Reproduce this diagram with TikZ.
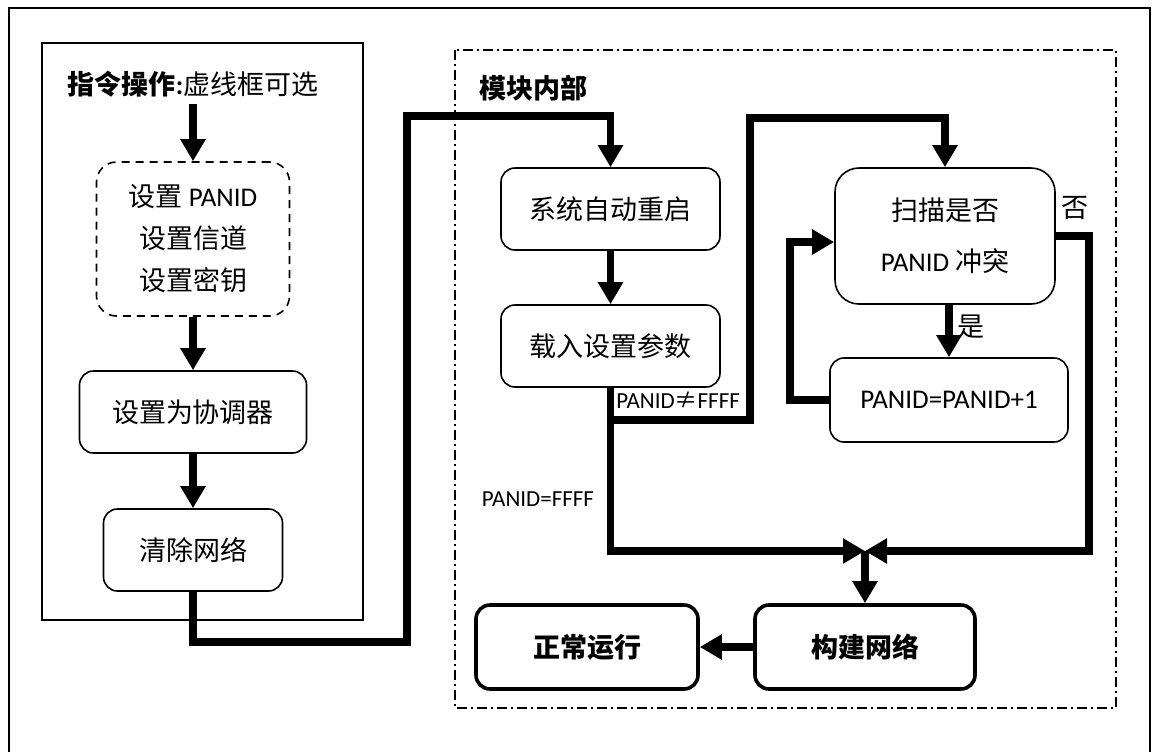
\documentclass[tikz,border=0pt]{standalone}
\usepackage{fontspec}
\setmainfont{Carlito}
\newfontfamily\cjk{Noto Sans CJK SC}
\usetikzlibrary{arrows.meta}

\newcommand\txtsize{\fontsize{13.5}{16}\selectfont}

\begin{document}
\begin{tikzpicture}[x=0.5pt, y=-0.5pt,
		box/.style={draw, line width=0.8pt, rounded corners=7pt, align=center, font=\cjk\txtsize},
		boldbox/.style={box, line width=1.8pt, font=\cjk\bfseries\txtsize},
		flow/.style={line width=3.6pt, -{Triangle[width=12pt, length=11pt]}},
		lbl/.style={font=\fontsize{11.5}{13}\selectfont, inner sep=1pt}]
	\useasboundingbox (0,0) rectangle (1152,751);

	% frames
	\draw[line width=0.8pt] (9,780) -- (9,8) -- (1150,8) -- (1150,780);
	\draw[line width=0.6pt] (42,43) rectangle (363,620);
	\draw[line width=0.6pt, dash pattern=on 5pt off 2pt on 1pt off 2pt] (455,50) rectangle (1116,708);

	% command side
	\node[font=\txtsize] (title) at (193,84) {{\cjk\bfseries 指令操作}\textbf{:}{\cjk 虚线框可选}};
	\node[box, dashed, dash pattern=on 4pt off 3pt, rounded corners=10pt, minimum width=96.5pt, minimum height=77pt,
		font=\cjk\fontsize{13.5}{21}\selectfont] (opt) at (193,239) {设置 {\rmfamily PANID}\\设置信道\\设置密钥};
	\node[box, minimum width=113.5pt, minimum height=41pt] (coord) at (193,412) {设置为协调器};
	\node[box, minimum width=89.5pt, minimum height=41pt] (clear) at (193,550) {清除网络};

	\draw[flow] (title.south) -- (opt.north);
	\draw[flow] (opt) -- (coord);
	\draw[flow] (coord) -- (clear);

	% module side
	\node[font=\cjk\bfseries\txtsize] (inside) at (533,88) {模块内部};
	\node[box, minimum width=109.5pt, minimum height=41pt] (restart) at (610.5,209) {系统自动重启};
	\node[box, minimum width=109.5pt, minimum height=41pt] (load) at (610.5,346) {载入设置参数};
	\node[box, rounded corners=12pt, minimum width=110pt, minimum height=68pt,
		font=\cjk\fontsize{13.5}{25.5}\selectfont] (scan) at (945,236) {扫描是否\\{\rmfamily PANID} 冲突};
	\node[box, minimum width=119pt, minimum height=42pt, font=\txtsize] (inc) at (949,400) {PANID=PANID+1};
	\node[boldbox, minimum width=110pt, minimum height=42pt] (build) at (865,647) {构建网络};
	\node[boldbox, minimum width=111pt, minimum height=42pt] (run) at (587,647) {正常运行};
	\coordinate (merge) at (865,551);

	\draw[flow] (clear.south) -- (193,642) -- (407,642) -- (407,116) -- (610.5,116) -- (restart.north);
	\draw[flow] (restart) -- (load);
	\draw[flow] (load.south) -- (610.5,420) -- (750,420) -- (750,118) -- (945,118) -- (scan.north);
	\node[lbl, anchor=west] (ne) at (614,400) {PANID{\cjk ≠}FFFF};
	\draw[flow] (load.south) -- (610.5,551) -- (merge);
	\node[lbl] (eq) at (538,499) {PANID=FFFF};
	\draw[flow] (scan.east) -- (1089,236) -- (1089,551) -- (merge);
	\node[font=\cjk\txtsize] (no) at (1075,208) {否};
	\draw[flow] (scan.south -| inc.north) -- (inc.north);
	\node[font=\cjk\txtsize] (yes) at (971,327) {是};
	\draw[flow] (inc.west) -- (790,400) -- (790,242) -- ([yshift=-3pt]scan.west);
	\draw[flow] (merge) -- (build.north);
	\draw[flow] (build) -- (run);
\end{tikzpicture}
\end{document}
